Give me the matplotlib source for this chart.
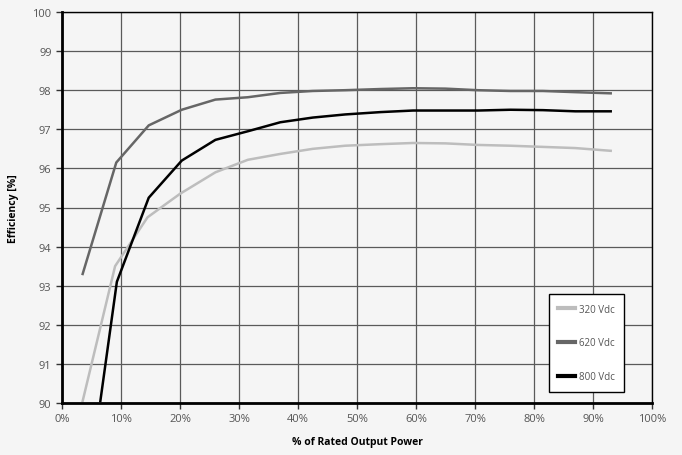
import matplotlib
matplotlib.use('Agg')
import matplotlib.pyplot as plt
from matplotlib.ticker import FuncFormatter

plt.rcParams['font.family'] = ['Open Sans', 'DejaVu Sans']

# % of rated output power
x_320 = [3.5, 9.0, 14.5, 20.0, 26.0, 31.5, 37.0, 42.5, 48.0, 54.0, 59.5, 65.0, 70.5, 76.0, 81.5, 87.0, 93.0]
x_620 = [3.5, 9.2, 14.7, 20.3, 26.0, 31.5, 37.0, 42.5, 48.0, 54.0, 59.5, 65.0, 70.5, 76.0, 81.5, 87.0, 93.0]
x_800 = [6.5, 9.3, 14.7, 20.3, 26.0, 31.5, 37.0, 42.5, 48.0, 54.0, 59.5, 65.0, 70.5, 76.0, 81.5, 87.0, 93.0]

# efficiency [%]
eff_320 = [90.05, 93.5, 94.75, 95.35, 95.9, 96.22, 96.37, 96.5, 96.58, 96.62, 96.65, 96.64, 96.6, 96.58, 96.55, 96.52, 96.45]
eff_620 = [93.3, 96.15, 97.1, 97.5, 97.76, 97.82, 97.93, 97.98, 98.0, 98.03, 98.05, 98.04, 98.0, 97.98, 97.98, 97.95, 97.92]
eff_800 = [90.05, 93.1, 95.25, 96.2, 96.73, 96.95, 97.18, 97.3, 97.38, 97.44, 97.48, 97.48, 97.48, 97.5, 97.49, 97.46, 97.46]

labels = ['320 Vdc', '620 Vdc', '800 Vdc']
colors = ['#bdbdbd', '#666666', '#000000']

bg = '#f5f5f5'
fig = plt.figure(figsize=(6.82, 4.56), dpi=100, facecolor=bg)
ax = fig.add_axes([62/682, 1 - 404/456, 590/682, 391/456], facecolor=bg)

ax.plot(x_320, eff_320, color=colors[0], lw=1.8, label=labels[0])
ax.plot(x_620, eff_620, color=colors[1], lw=1.8, label=labels[1])
ax.plot(x_800, eff_800, color=colors[2], lw=1.8, label=labels[2])

ax.set_xlim(0, 100)
ax.set_ylim(90, 100)
ax.set_xticks(range(0, 101, 10))
ax.set_yticks(range(90, 101, 1))
ax.xaxis.set_major_formatter(FuncFormatter(lambda v, p: '%d%%' % v))
ax.grid(True, color='#5a5a5a', lw=0.9)
ax.set_axisbelow(True)

for s in ['left', 'bottom']:
    ax.spines[s].set_linewidth(2)
for s in ['right', 'top']:
    ax.spines[s].set_linewidth(1)
ax.tick_params(axis='both', colors='#333333', labelcolor='#555555', labelsize=8, length=4, width=1)

ax.set_xlabel('% of Rated Output Power', fontsize=7.5, fontweight='bold', labelpad=8)
ax.set_ylabel('Efficiency [%]', fontsize=7.5, fontweight='bold', labelpad=10)

leg = ax.legend(loc='lower right', bbox_to_anchor=(0.953, 0.028), fontsize=7,
                frameon=True, fancybox=False, handlelength=1.7, labelspacing=2.35,
                borderpad=1.0, handletextpad=0.4, borderaxespad=0)
leg.get_frame().set_edgecolor('#000000')
leg.get_frame().set_facecolor('white')
leg.get_frame().set_alpha(1)
for line in leg.get_lines():
    line.set_linewidth(3)
for t in leg.get_texts():
    t.set_color('#555555')

fig.savefig('out.png', dpi=100, facecolor=bg)
